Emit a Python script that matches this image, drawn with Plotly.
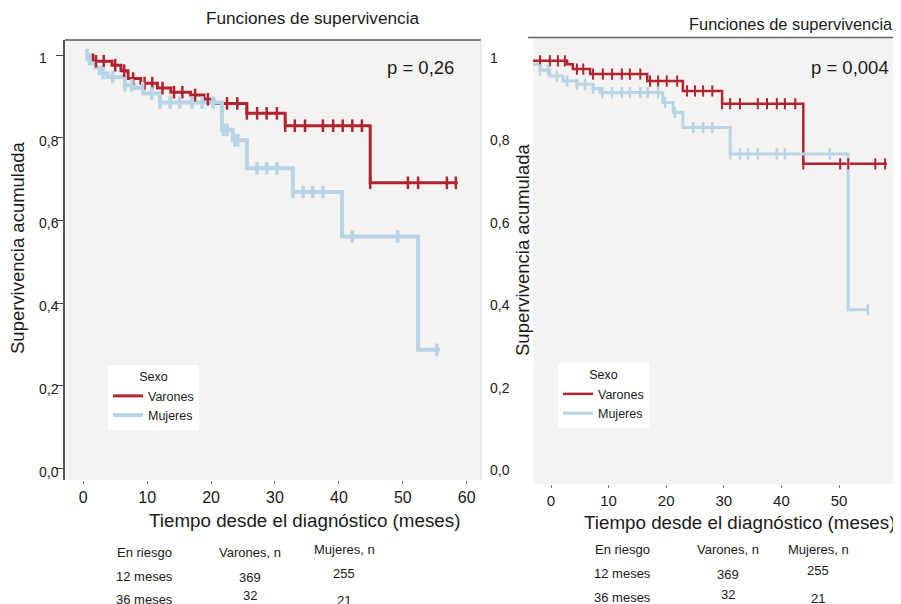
import plotly.graph_objects as go

# ---------------- data ----------------
# Left panel (p = 0,26)
left_var_t = [0.5, 1.5, 4.5, 5.9, 7.0, 9.0, 11.6, 13.7, 16.8, 18.9, 20.4, 25.6, 31.6, 44.9, 58.6]
left_var_s = [1.0, 0.985, 0.975, 0.962, 0.943, 0.932, 0.920, 0.910, 0.903, 0.893, 0.883, 0.859, 0.829, 0.691, 0.691]
left_muj_t = [0.3, 1.0, 1.9, 2.6, 3.8, 6.5, 8.0, 9.5, 12.0, 21.7, 23.4, 25.6, 32.8, 40.5, 52.4, 55.8]
left_muj_s = [1.0, 0.98, 0.97, 0.956, 0.947, 0.927, 0.92, 0.907, 0.885, 0.819, 0.794, 0.726, 0.669, 0.561, 0.287, 0.287]
left_var_cens = [2.0, 3.2, 5.0, 6.4, 7.8, 9.6, 10.8, 12.4, 14.2, 15.5, 17.5, 19.5, 22.5, 24.1, 25.6,
                 27.2, 28.7, 30.3, 31.6, 33.1, 34.7, 37.5, 39.1, 40.6, 42.1, 43.6, 44.9, 50.8, 52.4, 56.9, 58.3]
left_muj_cens = [0.6, 3.1, 4.6, 6.5, 7.6, 9.3, 10.7, 12.0, 13.6, 15.1, 17.0, 18.6, 20.3, 21.9, 22.5, 23.7,
                 24.2, 27.2, 28.7, 30.3, 32.8, 34.4, 35.9, 37.5, 42.1, 49.2, 55.3]

# Right panel (p = 0,004)
right_var_t = [-3.1, 2.8, 3.8, 6.8, 16.7, 22.9, 29.7, 43.8, 58.3]
right_var_s = [0.993, 0.985, 0.973, 0.961, 0.944, 0.920, 0.889, 0.743, 0.743]
right_muj_t = [-3.1, -1.9, -0.2, 2.1, 4.5, 7.3, 8.5, 19.4, 21.2, 22.9, 31.1, 51.6, 55.0]
right_muj_s = [0.985, 0.971, 0.956, 0.944, 0.936, 0.926, 0.916, 0.892, 0.868, 0.831, 0.767, 0.389, 0.389]
right_var_cens = [-1.9, -0.2, 1.2, 2.4, 4.5, 5.6, 7.3, 9.0, 10.6, 12.3, 13.7, 15.5, 17.2, 18.6, 20.1, 21.9,
                  23.6, 25.0, 26.4, 28.0, 29.7, 31.1, 32.8, 35.9, 37.5, 39.2, 40.6, 42.4, 43.8, 50.2, 51.6, 56.3, 58.0]
right_muj_cens = [-1.9, -0.5, 1.0, 2.8, 4.5, 5.9, 7.3, 8.9, 10.6, 12.3, 13.7, 15.5, 16.8, 18.6, 19.8, 21.5,
                  24.7, 26.4, 28.0, 31.1, 32.8, 34.2, 35.9, 39.2, 40.6, 48.4, 55.0]

groups = ["Varones", "Mujeres"]
p_values = ["p = 0,26", "p = 0,004"]
panel_title = "Funciones de supervivencia"
x_title = "Tiempo desde el diagnóstico (meses)"
y_title = "Supervivencia acumulada"
x_ticks = [0, 10, 20, 30, 40, 50, 60]
y_ticks = [0, 0.2, 0.4, 0.6, 0.8, 1.0]
y_ticktext = ["0,0", "0,2", "0,4", "0,6", "0,8", "1"]
table_header = ["En riesgo", "Varones, n", "Mujeres, n"]
table_rows = ["12 meses", "36 meses"]
risk_varones = [369, 32]
risk_mujeres = [255, 21]

# ---------------- style ----------------
RED = "#b0232f"
BLUE = "#b7d5e7"
BG = "#f4f3f1"
FONT = "Liberation Sans"
OFF = 8                 # the page body has an 8px margin
W, H = 901 - OFF, 604 - OFF


def px(x):
    return (x - OFF) / W


def py(y):
    return 1 - (y - OFF) / H


def surv_at(ts, ss, t):
    val = ss[0]
    for ti, si in zip(ts, ss):
        if ti <= t:
            val = si
    return val


fig = go.Figure()

panels = [
    dict(xa="x", ya="y", leg="legend",
         data=[(left_var_t, left_var_s, left_var_cens, RED, 3, 9),
               (left_muj_t, left_muj_s, left_muj_cens, BLUE, 4, 9)]),
    dict(xa="x2", ya="y2", leg="legend2",
         data=[(right_var_t, right_var_s, right_var_cens, RED, 2.5, 8),
               (right_muj_t, right_muj_s, right_muj_cens, BLUE, 3, 8)]),
]

for pnl in panels:
    for name, (ts, ss, cens, col, lw, msz) in zip(groups, pnl["data"]):
        fig.add_trace(go.Scatter(
            x=ts, y=ss, mode="lines", line=dict(color=col, width=lw, shape="hv"),
            name=name, xaxis=pnl["xa"], yaxis=pnl["ya"], legend=pnl["leg"],
        ))
    for name, (ts, ss, cens, col, lw, msz) in zip(groups, pnl["data"]):
        fig.add_trace(go.Scatter(
            x=cens, y=[surv_at(ts, ss, c) for c in cens], mode="markers",
            marker=dict(symbol="line-ns", size=msz, line=dict(color=col, width=lw - 0.5)),
            showlegend=False, xaxis=pnl["xa"], yaxis=pnl["ya"], hoverinfo="skip",
        ))

axis_common = dict(showgrid=False, zeroline=False, fixedrange=True)

fig.update_layout(
    width=W, height=H, autosize=False,
    margin=dict(l=0, r=0, t=0, b=0),
    paper_bgcolor="white", plot_bgcolor=BG,
    font=dict(family=FONT, color="#1a1a1a"),
    showlegend=True,
    xaxis=dict(domain=[px(65), px(481)], range=[-2.86, 62.24], tickvals=x_ticks,
               ticks="outside", ticklen=3, tickcolor="#777", tickwidth=1,
               tickfont=dict(size=16, family=FONT), anchor="y", **axis_common),
    yaxis=dict(domain=[py(480), py(40)], range=[-0.0278, 1.0363], tickvals=y_ticks,
               showticklabels=False, ticks="outside", ticklen=7, tickcolor="#444",
               showline=True, linecolor="#555", linewidth=1.5, anchor="x", **axis_common),
    xaxis2=dict(domain=[px(533), 1.0], range=[-3.125, 60.76], tickvals=x_ticks,
                ticks="outside", ticklen=3, tickcolor="#777", tickwidth=1,
                tickfont=dict(size=15, family=FONT), anchor="y2", **axis_common),
    yaxis2=dict(domain=[py(484), py(38)], range=[-0.034, 1.0485], tickvals=y_ticks,
                showticklabels=False, ticks="", showline=False, anchor="x2", **axis_common),
    legend=dict(x=px(108), y=py(365), xanchor="left", yanchor="top", bgcolor="white",
                font=dict(size=12.5, family=FONT), itemwidth=30, tracegroupgap=0,
                title=dict(text="Sexo", side="top center", font=dict(size=12.5, family=FONT))),
    legend2=dict(x=px(558), y=py(363), xanchor="left", yanchor="top", bgcolor="white",
                 font=dict(size=12.5, family=FONT), itemwidth=30, tracegroupgap=0,
                 title=dict(text="Sexo", side="top center", font=dict(size=12.5, family=FONT))),
)

# panel frame lines
fig.add_shape(type="line", xref="paper", yref="paper", x0=px(65), x1=px(481), y0=py(40), y1=py(40),
              line=dict(color="#555", width=1.5))
fig.add_shape(type="line", xref="paper", yref="paper", x0=px(481), x1=px(481), y0=py(40), y1=py(480),
              line=dict(color="#ddd", width=1))
fig.add_shape(type="line", xref="paper", yref="paper", x0=px(528), x1=1.0, y0=py(37.5), y1=py(37.5),
              line=dict(color="#666", width=1.5))


def note(x, y, text, size, **kw):
    d = dict(x=px(x), y=py(y), xref="paper", yref="paper", text=text, showarrow=False,
             xanchor="center", yanchor="middle", font=dict(size=size))
    d.update(kw)
    return d


ann = []
# y tick labels (left-aligned, as in the reference)
for v, t in zip(y_ticks, y_ticktext):
    ann.append(dict(x=px(37), y=v, xref="paper", yref="y", text=t, showarrow=False,
                    xanchor="left", yanchor="middle", yshift=-3, font=dict(size=14)))
    ann.append(dict(x=px(488), y=v, xref="paper", yref="y2", text=t, showarrow=False,
                    xanchor="left", yanchor="middle", font=dict(size=14)))

# titles
ann.append(note(312, 18, panel_title, 17.2))
ann.append(note(791, 24, panel_title, 16.4))
# p values
ann.append(note(420, 68, p_values[0], 18.5))
ann.append(note(850, 68, p_values[1], 18.5))
# axis titles
ann.append(note(304, 520, x_title, 18.8))
ann.append(note(739, 522, x_title, 18.8))
ann.append(note(18, 248, y_title, 18.5, textangle=-90))
ann.append(note(522, 250, y_title, 18.5, textangle=-90))

# at-risk tables
tables = [
    dict(cols=[144, 250, 344], head_y=[552, 552, 549], row_y=[[576, 577, 573], [599, 595, 600]]),
    dict(cols=[622, 728, 818], head_y=[549, 549, 549], row_y=[[573, 574, 570], [597, 594, 598]]),
]
for tb in tables:
    for cx, hy, txt in zip(tb["cols"], tb["head_y"], table_header):
        ann.append(note(cx, hy, txt, 13))
    for ri, (lab, rv, rm) in enumerate(zip(table_rows, risk_varones, risk_mujeres)):
        for cx, yy, txt in zip(tb["cols"], tb["row_y"][ri], [lab, str(rv), str(rm)]):
            ann.append(note(cx, yy, txt, 13))

fig.update_layout(annotations=ann)

fig.write_html("out.html")
